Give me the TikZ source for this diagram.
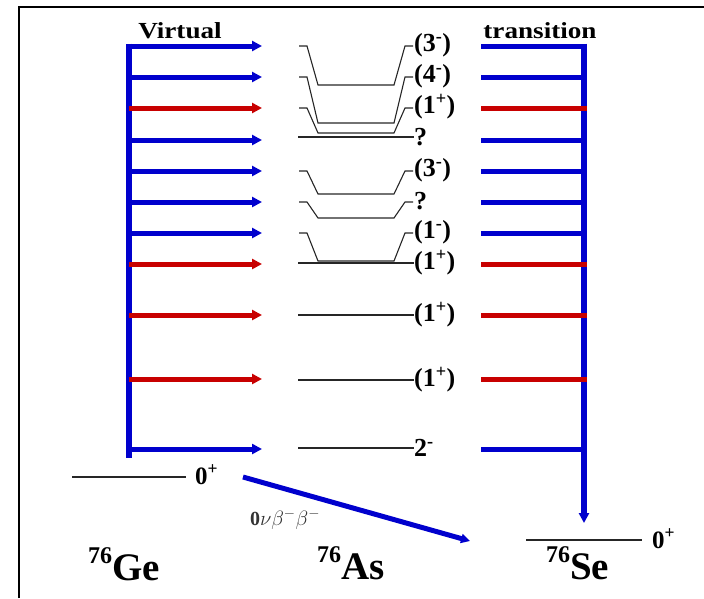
\documentclass[tikz,border=0pt]{standalone}
\usepackage{fontspec}
\setmainfont{Liberation Serif}
\usetikzlibrary{arrows.meta}
\definecolor{lvblue}{RGB}{0,0,205}
\definecolor{lvred}{RGB}{200,0,0}
\tikzset{
  vbar/.style={line width=6.5pt},
  harrow/.style={line width=5pt,-{Triangle[length=10pt,width=10pt]}},
  hbar/.style={line width=5pt},
  level/.style={line width=1.1pt,black!85},
  lab/.style={anchor=west,font=\bfseries\fontsize{26}{26}\selectfont,inner sep=0pt},
  head/.style={anchor=base,font=\bfseries\fontsize{23}{23}\selectfont,inner sep=0pt},
  iso/.style={anchor=base west,inner sep=0pt,font=\bfseries},
  spin/.style={anchor=base west,inner sep=0pt,font=\bfseries\fontsize{25}{25}\selectfont},
}
\newcommand{\isolab}[1]{\raisebox{17pt}{\fontsize{24}{24}\selectfont 76}{\fontsize{39}{39}\selectfont #1}}
\begin{document}
\begin{tikzpicture}[x=1pt,y=-1pt]
\useasboundingbox (0,0) rectangle (704,598);
% frame
\draw[line width=2pt] (19,598) -- (19,6.5) -- (704,6.5);
% headings
\node[head] (virt) at (180,38) {\scalebox{1.18}[1]{Virtual}};
\node[head] (trans) at (540,38) {\scalebox{1.18}[1]{transition}};
% vertical bars
\coordinate (ltop) at (129,43.5);
\coordinate (lbot) at (129,458);
\draw[vbar,lvblue] (ltop) -- (lbot);
\coordinate (rtop) at (584,43.5);
\coordinate (rbot) at (584,523);
\draw[line width=6.5pt,lvblue,-{Triangle[length=10pt,width=10pt]}] (rtop) -- (rbot);
% horizontal arrows and bars
\foreach \i/\y/\c in {1/46/lvblue,2/77/lvblue,3/108/lvred,4/140/lvblue,5/171/lvblue,6/202/lvblue,7/233/lvblue,8/264/lvred,9/315/lvred,10/379/lvred,11/449/lvblue}{
  \coordinate (la\i) at (129,\y);
  \coordinate (lb\i) at (262,\y);
  \draw[harrow,\c] (la\i) -- (lb\i);
  \coordinate (ra\i) at (481,\y);
  \coordinate (rb\i) at (587,\y);
  \draw[hbar,\c] (ra\i) -- (rb\i);
}
% trapezoid levels
\foreach \i/\y/\b/\t in {1/46/85/{(3\textsuperscript{-})},2/77/123/{(4\textsuperscript{-})},3/108/133/{(1\textsuperscript{+})},5/171/194/{(3\textsuperscript{-})},6/202/218/{?},7/233/261/{(1\textsuperscript{-})}}{
  \draw[level] (299,\y) -- (307,\y) -- (318,\b) -- (394,\b) -- (405,\y) -- (413,\y);
  \node[lab] (m\i) at (414,\y-1) {\t};
}
% straight levels
\foreach \i/\y/\t in {4/137/{?},8/263/{(1\textsuperscript{+})},9/315/{(1\textsuperscript{+})},10/380/{(1\textsuperscript{+})},11/448/{2\textsuperscript{-}}}{
  \coordinate (s\i) at (298,\y);
  \node[lab] (m\i) at (414,\y) {\t};
  \draw[level] (s\i) -- (m\i.west);
}
% ground states
\coordinate (ge1) at (72,477);
\coordinate (ge2) at (186,477);
\node[spin] (ge0) at (195,484) {0\textsuperscript{+}};
\draw[level] (ge1) -- (ge2);
\coordinate (se1) at (526,540);
\coordinate (se2) at (642,540);
\draw[level] (se1) -- (se2);
\node[spin] (se0) at (652,548) {0\textsuperscript{+}};
% 0nu double beta
\coordinate (db1) at (243,477);
\coordinate (db2) at (470,541);
\draw[line width=5pt,lvblue,-{Triangle[length=9pt,width=9pt]}] (db1) -- (db2);
\node[anchor=base,inner sep=0pt,font=\fontsize{20}{20}\selectfont,black!80] (dbl) at (285,525) {\textbf{0}$\nu\beta^{-}\beta^{-}$};
% isotope labels
\node[iso] (ge) at (88,580) {\isolab{Ge}};
\node[iso] (as) at (317,579) {\isolab{As}};
\node[iso] (se) at (546,579) {\isolab{Se}};
\end{tikzpicture}
\end{document}
